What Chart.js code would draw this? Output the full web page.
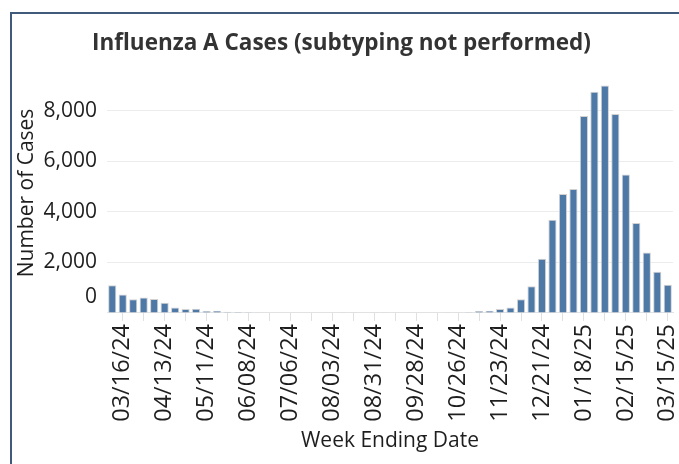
<!DOCTYPE html>
<html><head><meta charset="utf-8">
<script src="https://cdn.jsdelivr.net/npm/chart.js@4/dist/chart.umd.min.js"></script>
<style>
html,body{margin:0;padding:0;background:#fff;width:679px;height:464px;overflow:hidden}
canvas{position:absolute;left:0;top:0}
#frame{position:absolute;left:10px;top:12px;width:700px;height:480px;border-left:2px solid #41597a;border-top:2px solid #41597a;box-sizing:border-box;pointer-events:none}
</style></head><body>
<canvas id="c" width="679" height="464"></canvas>
<div id="frame"></div>
<script>
const chartTitle = 'Influenza A Cases (subtyping not performed)';
const xTitle = 'Week Ending Date';
const yTitle = 'Number of Cases';

const weeks = [
  '03/09/24','03/16/24','03/23/24','03/30/24','04/06/24','04/13/24','04/20/24','04/27/24',
  '05/04/24','05/11/24','05/18/24','05/25/24','06/01/24','06/08/24','06/15/24','06/22/24',
  '06/29/24','07/06/24','07/13/24','07/20/24','07/27/24','08/03/24','08/10/24','08/17/24',
  '08/24/24','08/31/24','09/07/24','09/14/24','09/21/24','09/28/24','10/05/24','10/12/24',
  '10/19/24','10/26/24','11/02/24','11/09/24','11/16/24','11/23/24','11/30/24','12/07/24',
  '12/14/24','12/21/24','12/28/24','01/04/25','01/11/25','01/18/25','01/25/25','02/01/25',
  '02/08/25','02/15/25','02/22/25','03/01/25','03/08/25','03/15/25'
];

const cases = [
  1100, 730, 540, 610, 550, 400, 220, 160,
  170, 80, 85, 45, 35, 30, 25, 20,
  20, 15, 20, 15, 15, 15, 10, 10,
  0, 10, 10, 15, 15, 15, 20, 20,
  25, 25, 30, 80, 85, 160, 220, 540,
  1060, 2150, 3690, 4710, 4910, 7800, 8760, 9010,
  7880, 5480, 3560, 2390, 1630, 1120
];

const yTicks = [0, 2000, 4000, 6000, 8000];
const yMax = 9500;

const FONT = "'Open Sans', 'DejaVu Sans', sans-serif";

new Chart(document.getElementById('c'), {
  type: 'bar',
  data: {
    labels: weeks,
    datasets: [{
      label: 'Influenza A',
      data: cases,
      backgroundColor: '#4e79a7',
      borderColor: '#d2d2d2',
      borderWidth: 1,
      barPercentage: 0.78,
      categoryPercentage: 1.0
    }]
  },
  options: {
    responsive: false,
    devicePixelRatio: 1,
    animation: false,
    layout: { padding: { left: 10, right: 6, top: 0, bottom: 8.5 } },
    plugins: {
      legend: { display: false },
      tooltip: { enabled: false },
      title: {
        display: true,
        text: chartTitle,
        color: '#333333',
        font: { family: FONT, size: 22.5, weight: 'bold' },
        padding: { top: 30, bottom: 16 }
      }
    },
    scales: {
      x: {
        offset: true,
        grid: {
          display: true,
          drawOnChartArea: false,
          drawTicks: true,
          tickLength: 8,
          offset: false,
          color: (ctx) => (ctx.index % 2 === 1 ? '#e0e0e0' : 'rgba(0,0,0,0)'),
          lineWidth: 1
        },
        border: { display: true, color: '#e2e2e2', width: 1 },
        ticks: {
          autoSkip: false,
          maxRotation: 90,
          minRotation: 90,
          padding: 3,
          color: '#1e1e1e',
          font: { family: FONT, size: 23.5 },
          callback: function (val, i) { return i % 4 === 1 ? weeks[i] : ''; }
        },
        title: {
          display: true,
          text: xTitle,
          color: '#1e1e1e',
          font: { family: FONT, size: 21 },
          padding: { top: 4, bottom: 1.5 }
        },
        afterFit: (s) => { s.paddingRight = 0; s.paddingLeft = 0; }
      },
      y: {
        min: 0,
        max: yMax,
        grid: { color: '#ececec', lineWidth: 1, drawTicks: false },
        border: { display: false },
        afterBuildTicks: (s) => { s.ticks = yTicks.map((v) => ({ value: v })); },
        ticks: {
          autoSkip: false,
          padding: 10,
          color: '#1e1e1e',
          font: { family: FONT, size: 21, lineHeight: '31px' },
          callback: (v) => (v === 0 ? ['0', ''] : v.toLocaleString('en-US'))
        },
        title: {
          display: true,
          text: yTitle,
          color: '#1e1e1e',
          font: { family: FONT, size: 21 },
          padding: { top: 4, bottom: 4 }
        },
        afterFit: (s) => { s.width = 97; }
      }
    }
  }
});
</script>
</body></html>
